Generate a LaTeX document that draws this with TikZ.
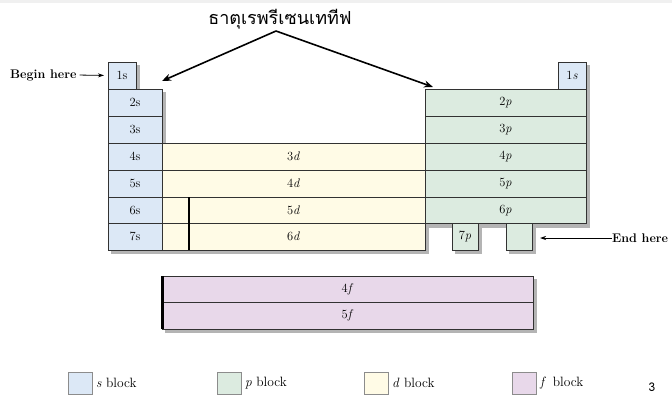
\documentclass[tikz,border=0pt]{standalone}
\usepackage{fontspec}
\newfontfamily\thaifont[Script=Thai]{Loma}
\usetikzlibrary{arrows.meta,backgrounds}
\definecolor{sfill}{RGB}{220,232,246}
\definecolor{pfill}{RGB}{220,235,224}
\definecolor{dfill}{RGB}{255,251,230}
\definecolor{ffill}{RGB}{232,216,234}
\definecolor{linec}{RGB}{50,50,50}
\definecolor{shadowc}{RGB}{180,180,180}
\definecolor{bandc}{RGB}{240,240,240}
\newcommand{\cellfont}{\fontsize{12.5}{14}\selectfont}
\newcommand{\mycell}[7]{\node[cell,#6,minimum width=#4pt,minimum height=#5pt] (#1) at (#2,#3) {#7};}
\tikzset{
  cell/.style={draw=linec, line width=0.8pt, inner sep=0pt, outer sep=0pt, anchor=north west, font=\cellfont},
  sc/.style={fill=sfill}, pc/.style={fill=pfill}, dc/.style={fill=dfill}, fc/.style={fill=ffill},
  legbox/.style={draw=black!45, line width=0.8pt, inner sep=0pt, outer sep=0pt, anchor=north west, minimum width=24pt, minimum height=22pt},
  legtext/.style={anchor=west, inner sep=0pt, font=\fontsize{13.5}{15}\selectfont},
  hint/.style={anchor=west, inner sep=0pt, font=\bfseries\fontsize{12.5}{14}\selectfont},
  bigarrow/.style={line width=1.6pt, -{Stealth[length=9pt,width=7pt]}},
  smallarrow/.style={line width=0.8pt, -{Stealth[length=6pt,width=4pt]}},
  heavy/.style={line width=2.4pt, line cap=butt}
}
\begin{document}
\begin{tikzpicture}[x=1pt,y=-1pt]
\useasboundingbox (0,0) rectangle (672,396);
% s block
\mycell{sA}{108}{62}{28}{27}{sc}{1s}
\mycell{sB}{108}{89}{54}{27}{sc}{2s}
\mycell{sC}{108}{116}{54}{27}{sc}{3s}
\mycell{sD}{108}{143}{54}{27}{sc}{4s}
\mycell{sE}{108}{170}{54}{27}{sc}{5s}
\mycell{sF}{108}{197}{54}{26.5}{sc}{6s}
\mycell{sG}{108}{223.5}{54}{26.5}{sc}{7s}
% d block
\mycell{dA}{162}{143}{263}{27}{dc}{3\textit{d}}
\mycell{dB}{162}{170}{263}{27}{dc}{4\textit{d}}
\mycell{dC}{162}{197}{263}{26.5}{dc}{5\textit{d}}
\mycell{dD}{162}{223.5}{263}{26.5}{dc}{6\textit{d}}
% p block
\mycell{sH}{558}{62}{28}{27}{sc}{1\textit{s}}
\mycell{pA}{425}{89}{161}{27}{pc}{2\textit{p}}
\mycell{pB}{425}{116}{161}{27}{pc}{3\textit{p}}
\mycell{pC}{425}{143}{161}{27}{pc}{4\textit{p}}
\mycell{pD}{425}{170}{161}{27}{pc}{5\textit{p}}
\mycell{pE}{425}{197}{161}{26.5}{pc}{6\textit{p}}
\mycell{pF}{452}{223.5}{26}{26.5}{pc}{7\textit{p}}
\mycell{pG}{506}{223.5}{26}{26.5}{pc}{}
% f block
\mycell{fA}{162}{276}{371}{26.5}{fc}{4\textit{f}}
\mycell{fB}{162}{302.5}{371}{26.5}{fc}{5\textit{f}}
% heavy lines
\draw[heavy] ([xshift=27pt]dC.north west) -- ([xshift=27pt]dD.south west);
\draw[heavy] ([xshift=0.6pt]fA.north west) -- ([xshift=0.6pt]fB.south west);
% title and arrows
\node[font=\thaifont\fontsize{18}{20}\selectfont, inner sep=1pt] (title) at (280,19) {ธาตุเรพรีเซนเททีฟ};
\coordinate (apex) at (276,31);
\coordinate (tipL) at (162,81);
\coordinate (tipR) at (433,87);
\draw[bigarrow] (apex) -- (tipL);
\draw[bigarrow] (apex) -- (tipR);
% begin / end
\node[hint] (begin) at (10,75) {Begin here};
\draw[smallarrow, shorten <=3pt, shorten >=4pt] (begin.east) -- (sA.west);
\node[hint] (endh) at (612,238) {End here};
\coordinate (endtip) at (540,238);
\draw[smallarrow] (endh.west) -- (endtip);
% legend
\node[legbox, fill=sfill] (ls) at (68,372) {};
\node[legtext] (lst) at ([xshift=4pt]ls.east) {\textit{s} block};
\node[legbox, fill=pfill] (lp) at (217,372) {};
\node[legtext] (lpt) at ([xshift=4pt]lp.east) {\textit{p} block};
\node[legbox, fill=dfill] (ld) at (364,372) {};
\node[legtext] (ldt) at ([xshift=4pt]ld.east) {\textit{d} block};
\node[legbox, fill=ffill] (lf) at (512,372) {};
\node[legtext] (lft) at ([xshift=4pt]lf.east) {\textit{f}\, block};
\node[font=\thaifont\fontsize{12}{14}\selectfont, inner sep=0pt] (pageno) at (652,387) {3};
% background: band and shadows
\begin{pgfonlayer}{background}
\fill[bandc] (0,0) rectangle (672,3);
\foreach \n in {sA,sB,sC,sD,sE,sF,sG,dA,dB,dC,dD,sH,pA,pB,pC,pD,pE,pF,pG,fA,fB}{
  \fill[shadowc] ([shift={(3,3)}]\n.north west) rectangle ([shift={(4,4)}]\n.south east);
}
\end{pgfonlayer}
\end{tikzpicture}
\end{document}
